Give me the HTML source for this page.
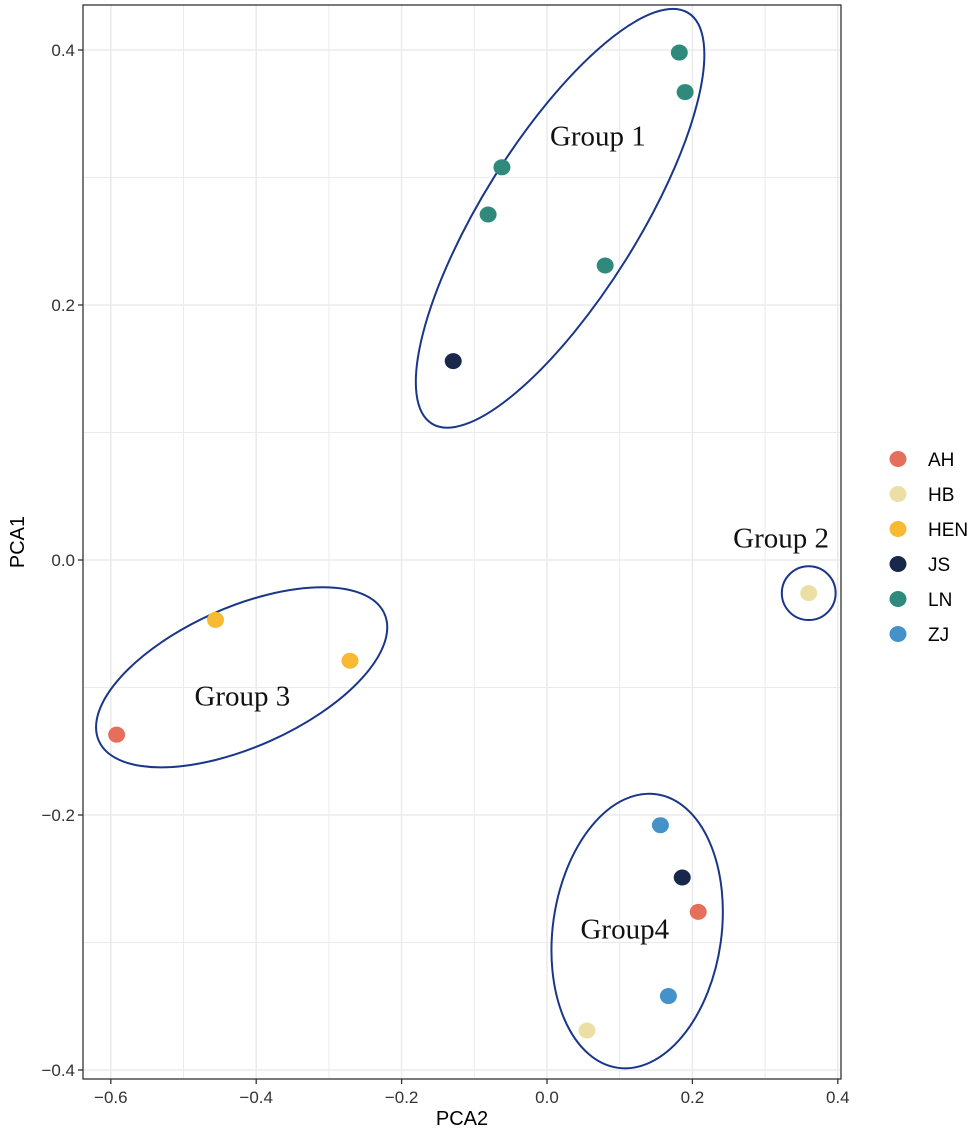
<!DOCTYPE html>
<html><head><meta charset="utf-8">
<style>
body{margin:0;background:#fff;}
svg{display:block;font-family:"Liberation Sans",sans-serif;}
</style></head>
<body>
<svg id="chart" width="978" height="1132" viewBox="0 0 978 1132">
<g id="grid"></g>
<g id="ellipses"></g>
<g id="points"></g>
<g id="axes"></g>
<g id="legend"></g>
</svg>
<script>
const groups = ["AH","HB","HEN","JS","LN","ZJ"];
const groupColors = ["#e4705c","#ebdfa4","#f8b933","#17284a","#2f8a7b","#4591c9"];
const ptGroup = ["LN","LN","LN","LN","LN","JS","HB","HEN","HEN","AH","ZJ","JS","AH","ZJ","HB"];
const ptX = [0.182,0.190,-0.062,-0.081,0.080,-0.129,0.360,-0.456,-0.271,-0.592,0.156,0.186,0.208,0.167,0.055];
const ptY = [0.398,0.367,0.308,0.271,0.231,0.156,-0.026,-0.047,-0.079,-0.137,-0.208,-0.249,-0.276,-0.342,-0.369];
const xTicks = [-0.6,-0.4,-0.2,0.0,0.2,0.4];
const xTickLabels = ["\u22120.6","\u22120.4","\u22120.2","0.0","0.2","0.4"];
const yTicks = [-0.4,-0.2,0.0,0.2,0.4];
const yTickLabels = ["\u22120.4","\u22120.2","0.0","0.2","0.4"];
const ellLabels = ["Group 1","Group 2","Group 3","Group4"];
const ellCx = [0.018,0.360,-0.420,0.124];
const ellCy = [0.268,-0.026,-0.092,-0.291];
const ellRx = [0.333,0.037,0.215,0.116];
const ellRy = [0.107,0.037,0.096,0.190];
const ellAngle = [-58,0,-24,8];
const labX = [0.070,0.322,-0.419,0.107];
const labY = [0.325,0.010,-0.114,-0.297];

const L=83,R=841,T=5,B=1079;
const sx=v=>547+v*727;
const sy=v=>560-v*1275;
const NS="http://www.w3.org/2000/svg";
function mk(tag,attrs,parent){const e=document.createElementNS(NS,tag);for(const k in attrs)e.setAttribute(k,attrs[k]);parent.appendChild(e);return e;}
const grid=document.getElementById('grid');
mk('rect',{x:L,y:T,width:R-L,height:B-T,fill:'#fff'},grid);
for(let v=-0.6;v<=0.41;v+=0.1){const x=sx(v);
 const l=mk('line',{x1:x,x2:x,y1:T,y2:B,stroke:'#ebebeb','stroke-width':Math.abs(Math.round(v*10))%2?1:1.6},grid);
 
 }
for(let v=-0.4;v<=0.41;v+=0.1){const y=sy(v);
 const l=mk('line',{x1:L,x2:R,y1:y,y2:y,stroke:'#ebebeb','stroke-width':Math.abs(Math.round(v*10))%2?1:1.6},grid);
 
 }
const ell=document.getElementById('ellipses');
for(let i=0;i<ellLabels.length;i++){
 const cx=sx(ellCx[i]),cy=sy(ellCy[i]);
 const rx=ellRx[i]*727, ry=ellRy[i]*727;
 const e=mk('ellipse',{cx:cx,cy:cy,rx:rx,ry:ry,fill:'none',stroke:'#1a3688','stroke-width':2,transform:`rotate(${ellAngle[i]} ${cx} ${cy})`},ell);
 
 
 const t=mk('text',{x:sx(labX[i]),y:sy(labY[i]),'text-anchor':'middle','font-family':'"Liberation Serif",serif','font-size':29,fill:'#111'},ell);
 t.textContent=ellLabels[i];
 
 
}
const pts=document.getElementById('points');
for(let i=0;i<ptX.length;i++){
 const c=mk('ellipse',{cx:sx(ptX[i]),cy:sy(ptY[i]),rx:8.5,ry:8,fill:groupColors[groups.indexOf(ptGroup[i])]},pts);
 
 
}
const ax=document.getElementById('axes');
mk('rect',{x:L,y:T,width:R-L,height:B-T,fill:'none',stroke:'#333','stroke-width':1.3},ax);
for(let i=0;i<xTicks.length;i++){const x=sx(xTicks[i]);
 mk('line',{x1:x,x2:x,y1:B,y2:B+5,stroke:'#333','stroke-width':1.3},ax);
 const t=mk('text',{x:x,y:B+24,'text-anchor':'middle','font-size':17,fill:'#333'},ax);
 t.textContent=xTickLabels[i];
 
 }
for(let i=0;i<yTicks.length;i++){const y=sy(yTicks[i]);
 mk('line',{x1:L-5,x2:L,y1:y,y2:y,stroke:'#333','stroke-width':1.3},ax);
 const t=mk('text',{x:L-8,y:y+6,'text-anchor':'end','font-size':17,fill:'#333'},ax);
 t.textContent=yTickLabels[i];
 
 }
const xt=mk('text',{x:(L+R)/2,y:1125,'text-anchor':'middle','font-size':20,fill:'#000'},ax);
xt.textContent='PCA2';


const yt=mk('text',{x:0,y:0,'text-anchor':'middle','font-size':20,fill:'#000',transform:`translate(24 ${(T+B)/2}) rotate(-90)`},ax);
yt.textContent='PCA1';


const lg=document.getElementById('legend');
for(let i=0;i<groups.length;i++){const y=459+i*35;
 const c=mk('ellipse',{cx:898,cy:y,rx:8.5,ry:8,fill:groupColors[i]},lg);
 
 
 const t=mk('text',{x:928,y:y+7,'font-size':19,fill:'#000'},lg);
 t.textContent=groups[i];
 
 }
</script>
</body></html>
